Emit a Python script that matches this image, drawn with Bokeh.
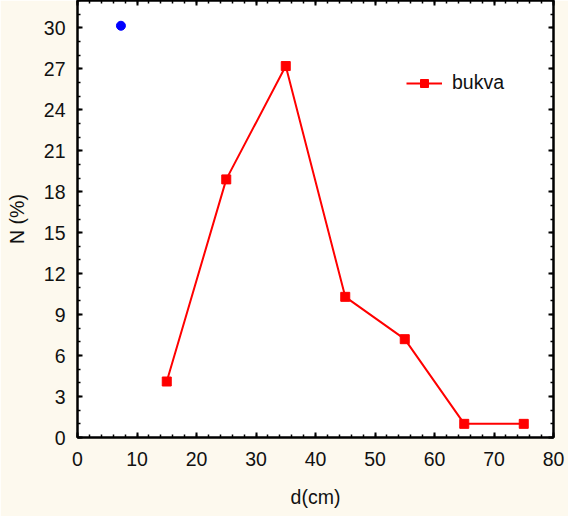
from bokeh.plotting import figure
from bokeh.models import (LinearAxis, Range1d, SingleIntervalTicker, Legend, LegendItem,
                          ColumnDataSource, CustomJSTickFormatter)
from bokeh.embed import file_html
from bokeh.resources import INLINE

# data
d_cm = [15, 25, 35, 45, 55, 65, 75]
n_pct = [4.1, 18.9, 27.2, 10.3, 7.2, 1.0, 1.0]
dot_x = [7.3]
dot_y = [30.15]
x_label = "d(cm)"
y_label = "N (%)"
series_name = "bukva"

BG = "#FDF9EE"
FONT = "Liberation Sans"
FS = "19.5px"

p = figure(width=568, height=516, output_backend="svg", toolbar_location=None,
           x_range=Range1d(0, 80), y_range=Range1d(0, 32),
           min_border_left=77, min_border_right=15, min_border_top=0, min_border_bottom=79,
           background_fill_color="white", border_fill_color=BG,
           x_axis_type=None, y_axis_type=None)
p.outline_line_color = "black"
p.outline_line_width = 2

xt = SingleIntervalTicker(interval=10, num_minor_ticks=5)
yt = SingleIntervalTicker(interval=3, num_minor_ticks=3)

def style(ax, labels=True):
    ax.axis_line_color = "black"
    ax.axis_line_width = 2
    ax.major_tick_in = 5
    ax.major_tick_out = 0
    ax.minor_tick_in = 3
    ax.minor_tick_out = 0
    ax.major_tick_line_width = 2
    ax.minor_tick_line_width = 1.5
    ax.major_tick_line_color = "black"
    ax.minor_tick_line_color = "black"
    ax.major_label_text_font = FONT
    ax.major_label_text_font_size = FS
    ax.major_label_text_color = "#111111"
    ax.axis_label_text_font = FONT
    ax.axis_label_text_font_size = FS
    ax.axis_label_text_font_style = "normal"
    ax.axis_label_text_color = "#111111"
    if not labels:
        ax.formatter = CustomJSTickFormatter(code="return '';")
        ax.major_label_standoff = 0

xb = LinearAxis(ticker=xt, axis_label=x_label)
style(xb)
xb.major_label_standoff = 14
xb.axis_label_standoff = 17
p.add_layout(xb, "below")

yl = LinearAxis(ticker=yt, axis_label=y_label)
style(yl)
yl.major_label_standoff = 12
yl.axis_label_standoff = 13
p.add_layout(yl, "left")

xa = LinearAxis(ticker=xt)
style(xa, labels=False)
p.add_layout(xa, "above")

yr = LinearAxis(ticker=yt)
style(yr, labels=False)
p.add_layout(yr, "right")

p.xgrid.ticker = xt
p.ygrid.ticker = yt
p.xgrid.grid_line_color = "#B8B8B8"
p.ygrid.grid_line_color = "#B8B8B8"
p.xgrid.grid_line_dash = "3 2"
p.ygrid.grid_line_dash = "3 2"
p.xgrid.grid_line_width = 1
p.ygrid.grid_line_width = 1

src = ColumnDataSource(dict(x=d_cm, y=n_pct))
ln = p.line("x", "y", source=src, line_color="red", line_width=2)
mk = p.scatter("x", "y", source=src, marker="square", size=9, fill_color="red", line_color="red")
p.scatter(dot_x, dot_y, marker="circle", size=9, fill_color="blue", line_color="blue")

legend = Legend(items=[LegendItem(label=series_name, renderers=[ln, mk])],
                location=(329, 343), padding=0, margin=0, spacing=0,
                glyph_width=36, glyph_height=20, label_standoff=10,
                border_line_color=None, background_fill_alpha=0,
                label_text_font=FONT, label_text_font_size=FS, label_text_color="#111111")
p.add_layout(legend, "center")

open("out.html", "w").write(file_html(p, INLINE))
